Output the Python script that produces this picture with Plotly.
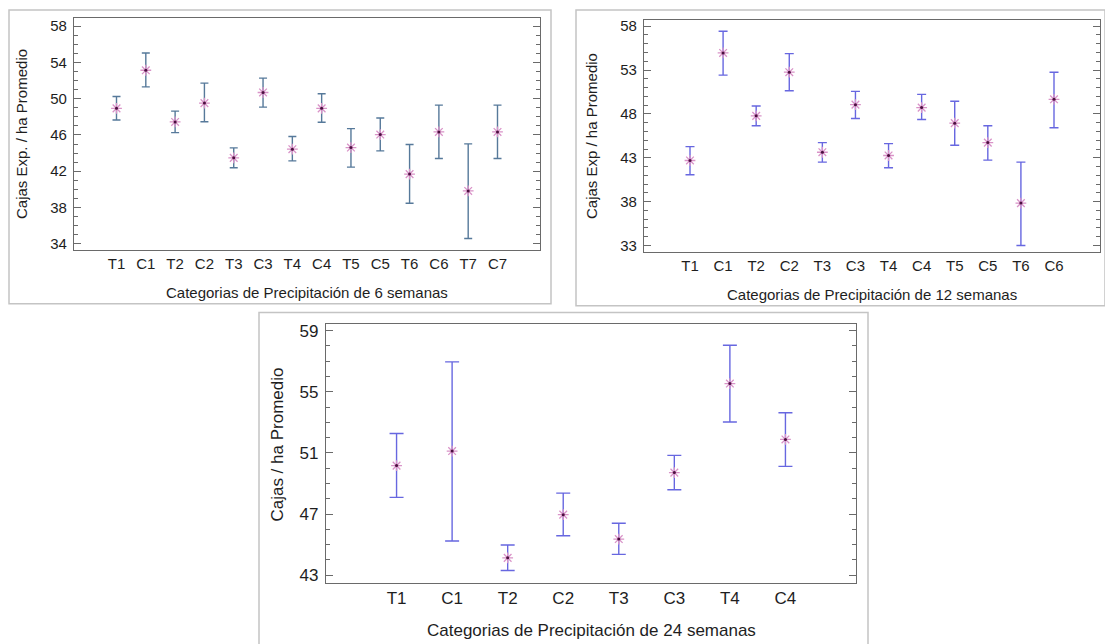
import plotly.graph_objects as go

# page body has an 8px margin, so the figure starts at (8, 8) in the window
OFF = 8
W, H = 1105, 636

# ---- data: panel 1 (6 semanas) ----
cats6 = ["T1", "C1", "T2", "C2", "T3", "C3", "T4", "C4", "T5", "C5", "T6", "C6", "T7", "C7"]
mean6 = [48.93, 53.13, 47.43, 49.51, 43.47, 50.68, 44.43, 48.93, 44.61, 46.04, 41.68, 46.33, 39.82, 46.33]
upper6 = [50.24, 55.04, 48.63, 51.71, 44.57, 52.26, 45.82, 50.54, 46.69, 47.87, 44.94, 49.29, 45.01, 49.29]
lower6 = [47.65, 51.30, 46.25, 47.46, 42.38, 49.07, 43.14, 47.39, 42.45, 44.24, 38.46, 43.40, 34.58, 43.40]
yticks6 = [34, 38, 42, 46, 50, 54, 58]

# ---- data: panel 2 (12 semanas) ----
cats12 = ["T1", "C1", "T2", "C2", "T3", "C3", "T4", "C4", "T5", "C5", "T6", "C6"]
mean12 = [42.69, 54.95, 47.78, 52.76, 43.63, 49.06, 43.26, 48.72, 46.95, 44.73, 37.83, 49.67]
upper12 = [44.27, 57.43, 48.91, 54.87, 44.73, 50.57, 44.61, 50.23, 49.44, 46.65, 42.50, 52.76]
lower12 = [41.07, 52.42, 46.65, 50.65, 42.50, 47.48, 41.86, 47.37, 44.43, 42.73, 33.00, 46.42]
yticks12 = [33, 38, 43, 48, 53, 58]

# ---- data: panel 3 (24 semanas) ----
cats24 = ["T1", "C1", "T2", "C2", "T3", "C3", "T4", "C4"]
mean24 = [50.17, 51.12, 44.13, 46.96, 45.36, 49.71, 55.54, 51.88]
upper24 = [52.27, 56.96, 44.97, 48.37, 46.40, 50.84, 58.05, 53.63]
lower24 = [48.09, 45.23, 43.30, 45.58, 44.36, 48.59, 53.02, 50.12]
yticks24 = [43, 47, 51, 55, 59]

FONT = "Liberation Sans, Arial, sans-serif"
TXT = "#1e1e1e"
FRAME = "#6a6a6a"


def px_x(p):
    return (p - OFF) / W


def px_y(p):
    return 1 - (p - OFF) / H


panels = [
    dict(cats=cats6, mean=mean6, up=upper6, lo=lower6, yt=yticks6,
         xd=[74, 540], yd=[15, 249], yr=[33.3, 58.9], xpad=1.45,
         color="#56799a", cap=4, fs=15,
         ytitle="Cajas Exp. / ha Promedio", xtitle="Categorias de Precipitación de 6 semanas",
         ytx=21, yty=132, xtty=292,
         box=[9, 7, 551, 303]),
    dict(cats=cats12, mean=mean12, up=upper12, lo=lower12, yt=yticks12,
         xd=[644, 1100], yd=[17.5, 250.7], yr=[32.28, 58.66], xpad=1.39,
         color="#6767e0", cap=4.5, fs=15,
         ytitle="Cajas Exp / ha Promedio", xtitle="Categorias de Precipitación de 12 semanas",
         ytx=591, yty=134, xtty=294,
         box=[576, 7, 1105, 305]),
    dict(cats=cats24, mean=mean24, up=upper24, lo=lower24, yt=yticks24,
         xd=[326, 856], yd=[323.3, 584.3], yr=[42.5, 59.45], xpad=1.27,
         color="#6767e0", cap=7, fs=17,
         ytitle="Cajas / ha Promedio", xtitle="Categorias de Precipitación de 24 semanas",
         ytx=278, yty=445, xtty=632,
         box=[259, 312, 868, 660]),
]

fig = go.Figure()
annotations = []
shapes = []

for i, p in enumerate(panels):
    n = i + 1
    xa = "x" if n == 1 else f"x{n}"
    ya = "y" if n == 1 else f"y{n}"
    plus = [u - m for u, m in zip(p["up"], p["mean"])]
    minus = [m - l for m, l in zip(p["mean"], p["lo"])]
    fig.add_trace(go.Scatter(
        x=p["cats"], y=p["mean"], mode="markers", xaxis=xa, yaxis=ya,
        marker=dict(symbol="asterisk-open", size=9, color="#d993c8",
                    line=dict(color="#d993c8", width=1.3)),
        error_y=dict(type="data", symmetric=False, array=plus, arrayminus=minus,
                     color=p["color"], thickness=1.4, width=p["cap"]),
        showlegend=False, hoverinfo="skip"))
    fig.add_trace(go.Scatter(
        x=p["cats"], y=p["mean"], mode="markers", xaxis=xa, yaxis=ya,
        marker=dict(symbol="circle", size=3, color="#4a0f3e"),
        showlegend=False, hoverinfo="skip"))

    xkey = "xaxis" if n == 1 else f"xaxis{n}"
    ykey = "yaxis" if n == 1 else f"yaxis{n}"
    fig.layout[xkey] = dict(
        domain=[px_x(p["xd"][0]), px_x(p["xd"][1])], anchor=ya, type="category",
        categoryorder="array", categoryarray=p["cats"],
        range=[-p["xpad"], len(p["cats"]) - 1 + p["xpad"]],
        showline=True, linecolor=FRAME, linewidth=1.2, mirror=True,
        ticks="", showgrid=False, zeroline=False,
        tickfont=dict(family=FONT, size=p["fs"], color=TXT))
    fig.layout[ykey] = dict(
        domain=[px_y(p["yd"][1]), px_y(p["yd"][0])], anchor=xa,
        range=p["yr"], tickvals=p["yt"],
        showline=True, linecolor=FRAME, linewidth=1.2, mirror="ticks",
        ticks="inside", ticklen=7, tickcolor=FRAME, tickwidth=1.2,
        minor=dict(dtick=1, ticks="inside", ticklen=4, tickcolor=FRAME, tickwidth=1),
        showgrid=False, zeroline=False, ticklabelstandoff=3,
        tickfont=dict(family=FONT, size=p["fs"], color=TXT))

    cx = (p["xd"][0] + p["xd"][1]) / 2
    annotations.append(dict(text=p["xtitle"], x=px_x(cx), y=px_y(p["xtty"]),
                            xref="paper", yref="paper", showarrow=False,
                            xanchor="center", yanchor="middle",
                            font=dict(family=FONT, size=p["fs"], color=TXT)))
    annotations.append(dict(text=p["ytitle"], x=px_x(p["ytx"]), y=px_y(p["yty"]),
                            xref="paper", yref="paper", showarrow=False, textangle=-90,
                            xanchor="center", yanchor="middle",
                            font=dict(family=FONT, size=p["fs"], color=TXT)))
    b = p["box"]
    shapes.append(dict(type="rect", xref="paper", yref="paper",
                       x0=px_x(b[0]), x1=px_x(b[2]), y0=px_y(b[3]), y1=px_y(b[1]),
                       line=dict(color="#c4c4c4", width=1.5), fillcolor="rgba(0,0,0,0)",
                       layer="below"))

fig.update_layout(
    width=W, height=H, margin=dict(l=0, r=0, t=0, b=0),
    paper_bgcolor="white", plot_bgcolor="white",
    annotations=annotations, shapes=shapes, showlegend=False)

fig.write_html("out.html")
